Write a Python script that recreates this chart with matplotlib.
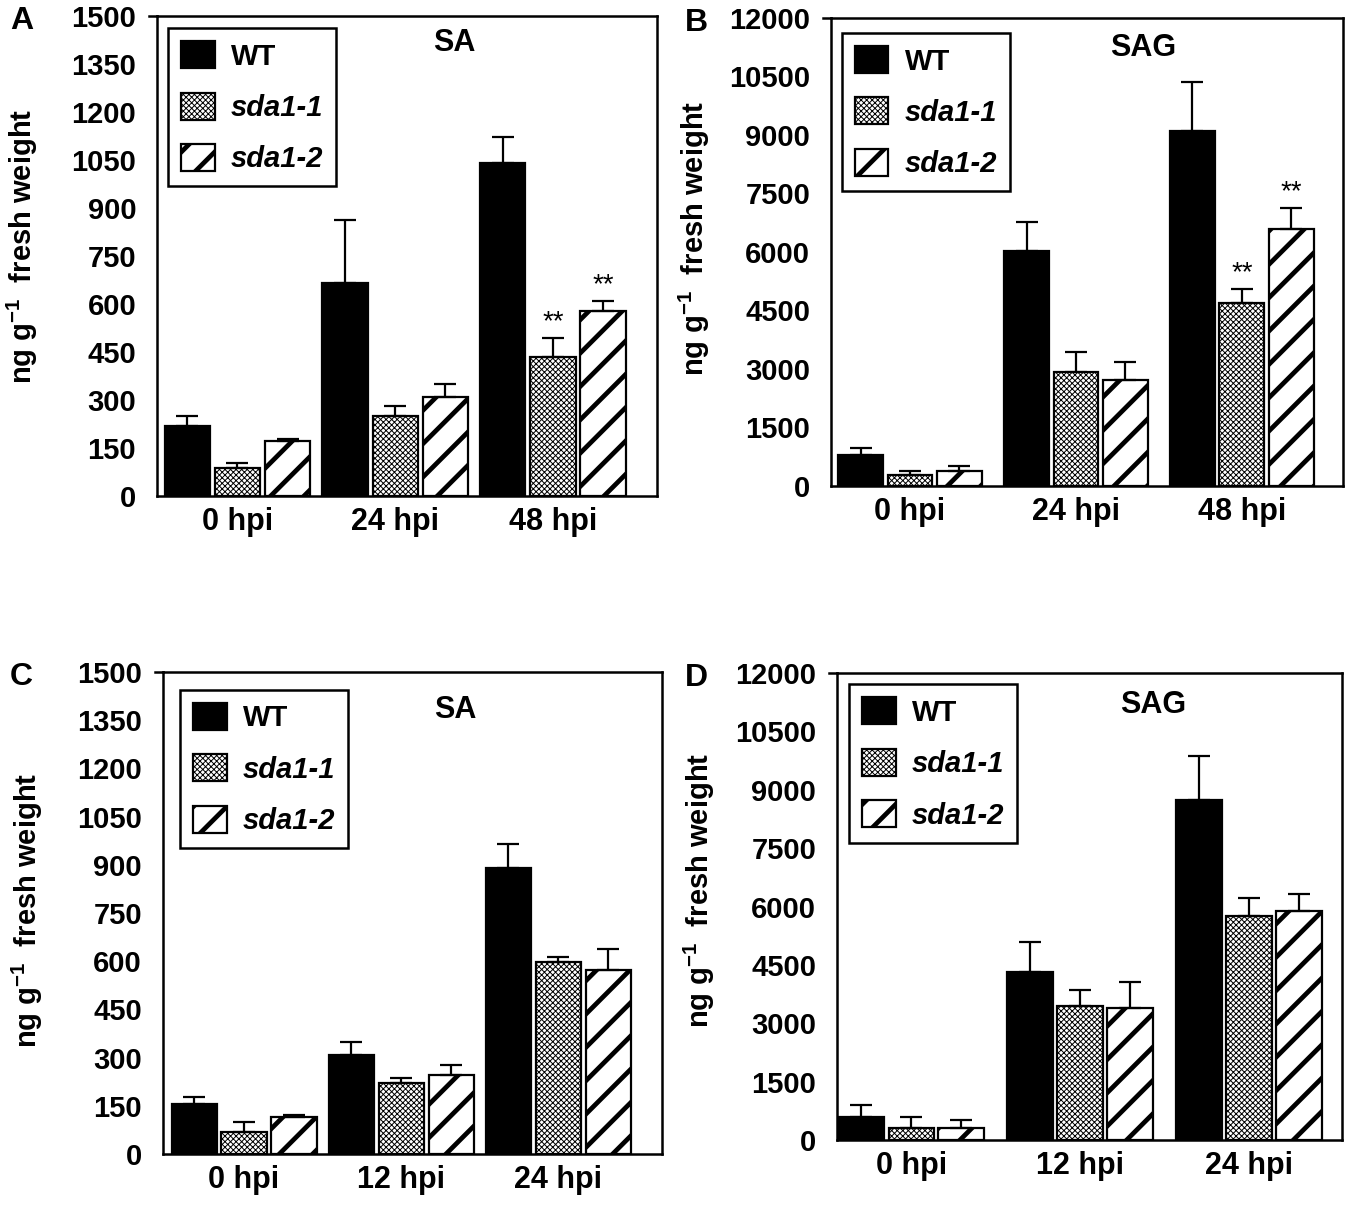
import matplotlib
matplotlib.use("Agg")
import matplotlib.pyplot as plt
import numpy as np

plt.rcParams['font.family'] = ['Liberation Sans', 'DejaVu Sans']
plt.rcParams['font.weight'] = 'bold'
plt.rcParams['mathtext.fontset'] = 'custom'
plt.rcParams['mathtext.rm'] = 'Liberation Sans:bold'
plt.rcParams['mathtext.bf'] = 'Liberation Sans:bold'
plt.rcParams['hatch.linewidth'] = 0.7

# ---- data ----
genotypes = ['WT', 'sda1-1', 'sda1-2']

# A: SA, 0/24/48 hpi
groups_a = ['0 hpi', '24 hpi', '48 hpi']
a_wt = [219, 666, 1041]
a_wt_err = [31, 196, 81]
a_s1 = [88, 250, 434]
a_s1_err = [15, 31, 60]
a_s2 = [172, 309, 578]
a_s2_err = [6, 41, 31]
a_stars = [['', '', ''], ['', '', '**'], ['', '', '**']]

# B: SAG, 0/24/48 hpi
groups_b = ['0 hpi', '24 hpi', '48 hpi']
b_wt = [795, 6026, 9103]
b_wt_err = [179, 743, 1256]
b_s1 = [282, 2923, 4692]
b_s1_err = [103, 513, 359]
b_s2 = [385, 2718, 6590]
b_s2_err = [128, 462, 538]
b_stars = [['', '', ''], ['', '', '**'], ['', '', '**']]

# C: SA, 0/12/24 hpi
groups_c = ['0 hpi', '12 hpi', '24 hpi']
c_wt = [156, 308, 891]
c_wt_err = [22, 41, 75]
c_s1 = [69, 221, 598]
c_s1_err = [31, 16, 16]
c_s2 = [115, 246, 573]
c_s2_err = [6, 31, 66]

# D: SAG, 0/12/24 hpi
groups_d = ['0 hpi', '12 hpi', '24 hpi']
d_wt = [591, 4319, 8740]
d_wt_err = [309, 771, 1131]
d_s1 = [308, 3445, 5758]
d_s1_err = [283, 411, 463]
d_s2 = [308, 3393, 5887]
d_s2_err = [206, 669, 437]

face = ['black', 'white', 'white']
hatches = ['', 'xxxxxx', '/']
hatch_lw = [0.7, 0.7, 3.4]


def panel(ax, letter, title, groups, vals, errs, stars, ymax, step,
          xlim, width, off, title_xy, leg_xy, ylab_xy, letter_x):
    x = np.arange(len(groups))
    for i in range(3):
        bars = ax.bar(x + (i - 1) * off, vals[i], width, color=face[i],
                      edgecolor='black', linewidth=1.6, hatch=hatches[i],
                      label=genotypes[i], zorder=2,
                      yerr=[np.zeros(len(groups)), errs[i]],
                      error_kw=dict(capsize=8, capthick=1.6, elinewidth=1.6,
                                    ecolor='black', zorder=3))
        for b in bars:
            if hasattr(b, 'set_hatch_linewidth'):
                b.set_hatch_linewidth(hatch_lw[i])
        if stars is not None:
            for j, s in enumerate(stars[i]):
                if s:
                    ax.annotate(s, (x[j] + (i - 1) * off, vals[i][j] + errs[i][j]),
                                xytext=(0, 2), textcoords='offset points',
                                ha='center', va='bottom', fontsize=20,
                                fontweight='normal')

    ax.set_xlim(*xlim)
    ax.set_ylim(0, ymax)
    ax.set_yticks(np.arange(0, ymax + 1, step))
    ax.set_yticklabels([str(int(v)) for v in np.arange(0, ymax + 1, step)])
    ax.set_xticks(x)
    ax.set_xticklabels(groups)
    ax.tick_params(axis='y', length=0, pad=15, labelsize=21)
    ax.tick_params(axis='x', length=0, pad=8, labelsize=22)
    for sp in ax.spines.values():
        sp.set_linewidth(1.8)
    ax.plot([-0.016, 0], [1, 1], color='black', lw=1.8,
            transform=ax.transAxes, clip_on=False)

    ax.set_ylabel(r'ng g$^{-1}$  fresh weight', fontsize=21, fontweight='bold')
    ax.yaxis.set_label_coords(*ylab_xy)

    ax.text(title_xy[0], title_xy[1], title, transform=ax.transAxes,
            ha='center', va='center', fontsize=22, fontweight='bold')

    leg = ax.legend(loc='upper left', bbox_to_anchor=leg_xy, borderaxespad=0,
                    fancybox=False, edgecolor='black', framealpha=1,
                    fontsize=21, handlelength=1.15, handleheight=1.05,
                    handletextpad=0.55, labelspacing=0.75, borderpad=0.45)
    leg.get_frame().set_linewidth(1.8)
    for k, h in enumerate(leg.legend_handles):
        if hasattr(h, 'set_hatch_linewidth'):
            h.set_hatch_linewidth(hatch_lw[k])
    for k, t in enumerate(leg.get_texts()):
        t.set_fontweight('bold')
        if k > 0:
            t.set_fontstyle('italic')

    pos = ax.get_position()
    ax.figure.text(letter_x, pos.y1 - 0.004, letter, fontsize=23,
                   fontweight='bold', ha='center', va='center')


fig = plt.figure(figsize=(13.5, 12.05), dpi=100)

ax_a = fig.add_axes([0.1163, 0.5884, 0.3704, 0.3983])
ax_b = fig.add_axes([0.6156, 0.5967, 0.3793, 0.3884])
ax_c = fig.add_axes([0.1207, 0.0423, 0.3696, 0.4000])
ax_d = fig.add_axes([0.6200, 0.0539, 0.3740, 0.3876])

panel(ax_a, 'A', 'SA', groups_a, [a_wt, a_s1, a_s2],
      [a_wt_err, a_s1_err, a_s2_err], a_stars, 1500, 150,
      (-0.51, 2.66), 0.287, 0.318, (0.594, 0.944), (0.022, 0.975),
      (-0.234, 0.52), 0.016)
panel(ax_b, 'B', 'SAG', groups_b, [b_wt, b_s1, b_s2],
      [b_wt_err, b_s1_err, b_s2_err], b_stars, 12000, 1500,
      (-0.476, 2.61), 0.27, 0.298, (0.609, 0.936), (0.021, 0.968),
      (-0.232, 0.53), 0.516)
panel(ax_c, 'C', 'SA', groups_c, [c_wt, c_s1, c_s2],
      [c_wt_err, c_s1_err, c_s2_err], None, 1500, 150,
      (-0.516, 2.66), 0.287, 0.318, (0.585, 0.921), (0.034, 0.963),
      (-0.236, 0.506), 0.016)
panel(ax_d, 'D', 'SAG', groups_d, [d_wt, d_s1, d_s2],
      [d_wt_err, d_s1_err, d_s2_err], None, 12000, 1500,
      (-0.44, 2.55), 0.27, 0.296, (0.626, 0.931), (0.024, 0.976),
      (-0.238, 0.535), 0.516)

fig.savefig('out.png', dpi=100)
